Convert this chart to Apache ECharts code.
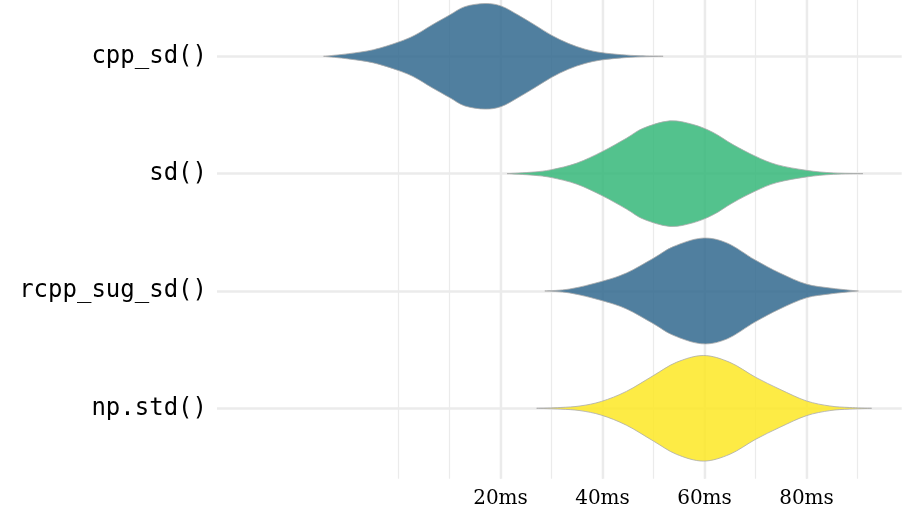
<!DOCTYPE html>
<html>
<head>
<meta charset="utf-8">
<script src="https://cdn.jsdelivr.net/npm/echarts@6/dist/echarts.min.js"></script>
<style>
  html, body { margin: 0; padding: 0; background: #fff; }
  #chart { width: 918px; height: 517px; }
</style>
</head>
<body>
<div id="chart"></div>
<script>
// benchmark timings (ms); violin outline
// x = time in ms, w = relative violin width (1 = widest point)
var categories = ['cpp_sd()', 'sd()', 'rcpp_sug_sd()', 'np.std()'];

var cppX = [-14.7, -9.8, -4.9, 0, 3.2, 6.5, 10, 13, 17, 20.2, 23.5, 26.8, 30, 33.3, 36.6, 39.8, 43.8, 47.4, 51.9];
var cppW = [0, 0.05, 0.125, 0.27, 0.40, 0.59, 0.78, 0.94, 1.0, 0.95, 0.78, 0.59, 0.40, 0.245, 0.135, 0.07, 0.03, 0.01, 0];

var sdX = [21.3, 26.4, 30, 35, 40, 44.7, 48, 53.2, 57.8, 61.7, 65.6, 70, 74.2, 80, 85.3, 91.1];
var sdW = [0, 0.03, 0.075, 0.2, 0.42, 0.67, 0.86, 1.0, 0.93, 0.78, 0.55, 0.33, 0.17, 0.063, 0.013, 0];

var rcppX = [28.7, 33.6, 39.8, 44.7, 50, 53.9, 59.5, 64.4, 69.9, 74.8, 80, 84.6, 88.5, 90.2];
var rcppW = [0, 0.038, 0.18, 0.34, 0.62, 0.84, 1.0, 0.91, 0.59, 0.34, 0.13, 0.057, 0.015, 0];

var npX = [27.1, 31.7, 35.6, 39.8, 44.7, 50, 54.5, 59.8, 65, 70, 74.8, 80, 84.6, 88.5, 92.8];
var npW = [0, 0.015, 0.044, 0.13, 0.32, 0.62, 0.87, 1.0, 0.87, 0.59, 0.36, 0.14, 0.044, 0.015, 0];

var xTicks = [20, 40, 60, 80];

var profiles = [
  { x: cppX, w: cppW },
  { x: sdX, w: sdW },
  { x: rcppX, w: rcppW },
  { x: npX, w: npW }
];
var fills = ['#31688E', '#35B779', '#31688E', '#FDE725'];

var myChart = echarts.init(document.getElementById('chart'));

// smooth curve (catmull-rom as cubic beziers) through pixel points
function curvePath(pts, start) {
  var d = start ? 'M' + pts[0][0] + ',' + pts[0][1] : '';
  for (var k = 0; k < pts.length - 1; k++) {
    var p0 = pts[Math.max(k - 1, 0)], p1 = pts[k], p2 = pts[k + 1], p3 = pts[Math.min(k + 2, pts.length - 1)];
    var c1x = p1[0] + (p2[0] - p0[0]) / 6, c1y = p1[1] + (p2[1] - p0[1]) / 6;
    var c2x = p2[0] - (p3[0] - p1[0]) / 6, c2y = p2[1] - (p3[1] - p1[1]) / 6;
    d += 'C' + c1x + ',' + c1y + ' ' + c2x + ',' + c2y + ' ' + p2[0] + ',' + p2[1];
  }
  return d;
}

function renderViolin(params, api) {
  var i = params.dataIndex;
  var p = profiles[i];
  var band = Math.abs(api.coord([0, 1])[1] - api.coord([0, 0])[1]);
  var half = band * 0.45;
  var top = [], bottom = [];
  for (var k = 0; k < p.x.length; k++) {
    var c = api.coord([p.x[k], i]);
    top.push([c[0], c[1] - p.w[k] * half]);
    bottom.unshift([c[0], c[1] + p.w[k] * half]);
  }
  var d = curvePath(top, true) + curvePath(bottom, false) + 'Z';
  return {
    type: 'path',
    shape: { pathData: d },
    style: {
      fill: echarts.color.modifyAlpha(fills[i], 0.85),
      stroke: '#ABABAB',
      lineWidth: 0.8
    }
  };
}

var clear = 'rgba(0,0,0,0)';
var grey = '#EBEBEB';

var option = {
  animation: false,
  backgroundColor: '#fff',
  grid: [
    // violins + category lines
    { left: 217, right: 16.3, top: 56.3, bottom: 108.7 },
    // full-height panel for the vertical grid lines
    { left: 194.5, right: 9.5, top: 0, bottom: 38.3 }
  ],
  xAxis: [
    { gridIndex: 0, type: 'value', min: -35.6, max: 98.7, show: false },
    {
      gridIndex: 1, type: 'value', position: 'top', min: -40, max: 100, interval: 10,
      axisLine: { show: false }, axisTick: { show: false }, axisLabel: { show: false },
      splitLine: {
        show: true,
        lineStyle: {
          width: 1.2,
          color: [clear, clear, clear, clear, grey, grey, grey, grey, grey, grey, grey, grey, grey, grey, clear]
        }
      }
    },
    {
      gridIndex: 1, type: 'value', position: 'bottom', min: -40, max: 100, interval: 20,
      axisLine: { show: false }, axisTick: { show: false },
      axisLabel: {
        margin: 10,
        fontFamily: 'DejaVu Serif',
        fontSize: 20,
        color: '#000',
        formatter: function (v) {
          return xTicks.indexOf(v) >= 0 ? v + 'ms' : '';
        }
      },
      splitLine: {
        show: true,
        lineStyle: { width: 2.4, color: [clear, clear, clear, grey, grey, grey, grey, clear] }
      }
    }
  ],
  yAxis: [
    {
      gridIndex: 0, type: 'category', data: categories, inverse: true, boundaryGap: false,
      axisLine: { show: false }, axisTick: { show: false },
      axisLabel: {
        margin: 10,
        interval: 0,
        fontFamily: 'DejaVu Sans Mono',
        fontSize: 24,
        color: '#000'
      },
      splitLine: { show: true, interval: 0, lineStyle: { color: grey, width: 2.6 } }
    },
    { gridIndex: 1, type: 'value', show: false }
  ],
  series: [
    {
      type: 'custom',
      xAxisIndex: 0,
      yAxisIndex: 0,
      renderItem: renderViolin,
      data: categories.map(function (c, i) { return [0, i]; }),
      encode: { x: 0, y: 1 },
      z: 3
    }
  ]
};

myChart.setOption(option);
</script>
</body>
</html>
